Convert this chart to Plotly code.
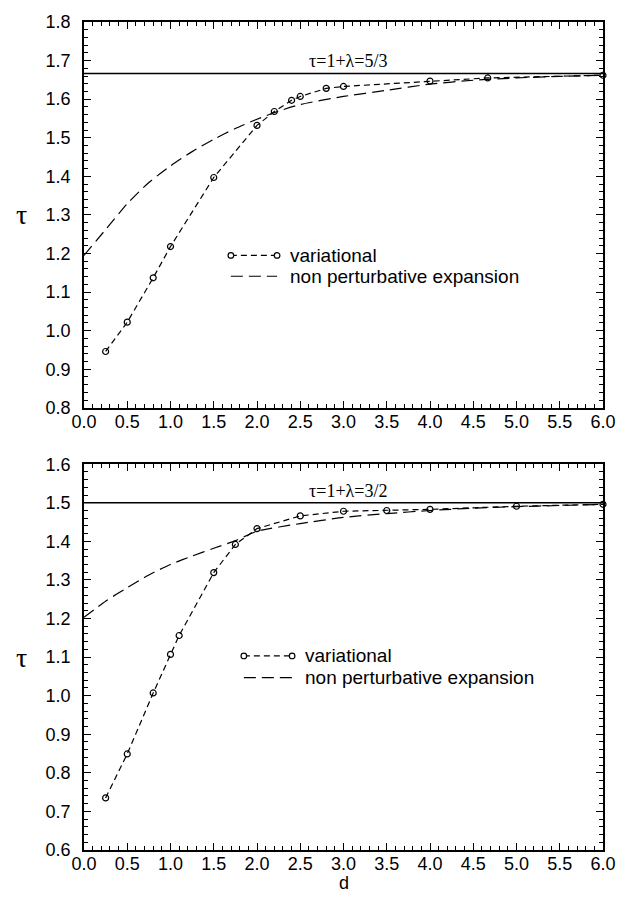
import plotly.graph_objects as go

# ---- data -------------------------------------------------------------
# upper panel: lambda = 2/3, asymptote tau = 5/3
d_var_a = [0.25, 0.5, 0.8, 1.0, 1.5, 2.0, 2.2, 2.4, 2.5, 2.8, 3.0, 4.0, 4.667, 6.0]
tau_var_a = [0.946, 1.022, 1.137, 1.218, 1.397, 1.532, 1.568, 1.597, 1.607, 1.628,
             1.633, 1.647, 1.655, 1.662]
d_np_a = [0.0, 0.25, 0.5, 0.75, 1.0, 1.25, 1.5, 1.75, 2.0, 2.25, 2.5, 3.0, 3.5,
          4.0, 4.5, 5.0, 5.5, 6.0]
tau_np_a = [1.195, 1.262, 1.329, 1.384, 1.427, 1.464, 1.496, 1.524, 1.548, 1.569,
            1.586, 1.607, 1.623, 1.639, 1.649, 1.655, 1.659, 1.662]
tau_limit_a = 5 / 3
label_a = "τ=1+λ=5/3"

# lower panel: lambda = 1/2, asymptote tau = 3/2
d_var_b = [0.25, 0.5, 0.8, 1.0, 1.1, 1.5, 1.75, 2.0, 2.5, 3.0, 3.5, 4.0, 5.0, 6.0]
tau_var_b = [0.735, 0.849, 1.007, 1.107, 1.156, 1.319, 1.392, 1.433, 1.466, 1.478,
             1.480, 1.483, 1.491, 1.496]
d_np_b = [0.0, 0.25, 0.5, 0.75, 1.0, 1.25, 1.5, 1.75, 2.0, 2.5, 3.0, 3.5, 4.0,
          4.5, 5.0, 5.5, 6.0]
tau_np_b = [1.203, 1.245, 1.280, 1.313, 1.340, 1.362, 1.382, 1.402, 1.426, 1.446,
            1.462, 1.472, 1.480, 1.486, 1.490, 1.493, 1.496]
tau_limit_b = 3 / 2
label_b = "τ=1+λ=3/2"

x_ticks = [0.0, 0.5, 1.0, 1.5, 2.0, 2.5, 3.0, 3.5, 4.0, 4.5, 5.0, 5.5, 6.0]
y_ticks_a = [0.8, 0.9, 1.0, 1.1, 1.2, 1.3, 1.4, 1.5, 1.6, 1.7, 1.8]
y_ticks_b = [0.6, 0.7, 0.8, 0.9, 1.0, 1.1, 1.2, 1.3, 1.4, 1.5, 1.6]
legend_names = ["variational", "non perturbative expansion"]
x_title = "d"
y_title = "τ"

# ---- styling ----------------------------------------------------------
SANS = "Liberation Sans, Arial, sans-serif"
SERIF = "Liberation Serif, Times New Roman, serif"
INK = "#000000"
VAR_DASH = "6px,4px"
NP_DASH = "12px,6px"
LW = 1.2

fig = go.Figure()


def add_panel(xa, ya, d_var, t_var, d_np, t_np, limit):
    fig.add_trace(go.Scatter(
        x=[x_ticks[0], x_ticks[-1]], y=[limit, limit], mode="lines",
        line=dict(color=INK, width=1.4), xaxis=xa, yaxis=ya,
        showlegend=False, hoverinfo="skip"))
    fig.add_trace(go.Scatter(
        x=d_np, y=t_np, mode="lines", name=legend_names[1],
        line=dict(color=INK, width=LW, dash=NP_DASH, shape="spline", smoothing=0.6),
        xaxis=xa, yaxis=ya, showlegend=False))
    fig.add_trace(go.Scatter(
        x=d_var, y=t_var, mode="lines+markers", name=legend_names[0],
        line=dict(color=INK, width=LW, dash=VAR_DASH),
        marker=dict(symbol="circle-open", size=6, color=INK, line=dict(width=1.2)),
        xaxis=xa, yaxis=ya, showlegend=False, cliponaxis=False))


add_panel("x", "y", d_var_a, tau_var_a, d_np_a, tau_np_a, tau_limit_a)
add_panel("x2", "y2", d_var_b, tau_var_b, d_np_b, tau_np_b, tau_limit_b)

common_axis = dict(
    showline=True, linecolor=INK, linewidth=1.5, mirror="allticks",
    ticks="inside", ticklen=7, tickwidth=1.2, tickcolor=INK,
    showgrid=False, zeroline=False,
    tickfont=dict(family=SANS, size=18, color=INK),
)

xaxis_common = dict(common_axis, range=[0, 6], tickvals=x_ticks, tickformat=".1f",
                    minor=dict(ticks="inside", ticklen=4, dtick=0.1, tickcolor=INK,
                               tickwidth=1, showgrid=False),
                    ticklabelstandoff=-3)

y_minor = dict(ticks="inside", ticklen=4, dtick=0.02, tickcolor=INK,
               tickwidth=1, showgrid=False)

fig.update_layout(
    width=631, height=901,
    margin=dict(l=84, r=28, t=13, b=51),
    paper_bgcolor="white", plot_bgcolor="white",
    showlegend=False,
    xaxis=dict(xaxis_common, anchor="y"),
    yaxis=dict(common_axis, domain=[0.53405, 1.0], range=[0.8, 1.8],
               tickvals=y_ticks_a, tickformat=".1f", anchor="x",
               minor=y_minor, ticklabelstandoff=8),
    xaxis2=dict(xaxis_common, anchor="y2"),
    yaxis2=dict(common_axis, domain=[0.0, 0.46595], range=[0.6, 1.6],
                tickvals=y_ticks_b, tickformat=".1f", anchor="x2",
                minor=y_minor, ticklabelstandoff=8),
)

annotations = []
shapes = []

# asymptote labels
for xa, ya, lim, txt in [("x", "y", tau_limit_a, label_a), ("x2", "y2", tau_limit_b, label_b)]:
    annotations.append(dict(x=3.05, y=lim, xref=xa, yref=ya, text=txt, showarrow=False,
                            xanchor="center", yanchor="bottom", yshift=0,
                            font=dict(family=SERIF, size=18, color=INK)))

# axis titles
for xa, ya in [("x", "y"), ("x2", "y2")]:
    annotations.append(dict(x=-0.1195, y=0.5, xref=f"{xa} domain", yref=f"{ya} domain",
                            text=y_title, showarrow=False, xanchor="center",
                            yanchor="middle",
                            font=dict(family=SERIF, size=28, color=INK)))
annotations.append(dict(x=0.5, y=-0.085, xref="x2 domain", yref="y2 domain",
                        text=x_title, showarrow=False, xanchor="center",
                        yanchor="middle", font=dict(family=SANS, size=18, color=INK)))


# in-panel legends: key lines drawn in axis-domain units
def add_legend(xa, ya, kx0, kx1, tx, row1, row2):
    xr, yr = f"{xa} domain", f"{ya} domain"
    shapes.append(dict(type="line", xref=xr, yref=yr, x0=kx0, x1=kx1, y0=row1, y1=row1,
                       line=dict(color=INK, width=LW, dash=VAR_DASH)))
    for kx in (kx0, kx1):
        shapes.append(dict(type="circle", xref=xr, yref=yr, xsizemode="pixel",
                           ysizemode="pixel", xanchor=kx, yanchor=row1,
                           x0=-2.8, x1=2.8, y0=-2.8, y1=2.8,
                           fillcolor="white", line=dict(color=INK, width=1.2)))
    shapes.append(dict(type="line", xref=xr, yref=yr, x0=kx0, x1=kx1, y0=row2, y1=row2,
                       line=dict(color=INK, width=LW, dash=NP_DASH)))
    for name, row in zip(legend_names, (row1, row2)):
        annotations.append(dict(x=tx, y=row, xref=xr, yref=yr, text=name,
                                showarrow=False, xanchor="left", yanchor="middle",
                                font=dict(family=SANS, size=19, color=INK)))


add_legend("x", "y", 0.283, 0.372, 0.393, 0.395, 0.341)
add_legend("x2", "y2", 0.308, 0.401, 0.422, 0.503, 0.4466)

fig.update_layout(annotations=annotations, shapes=shapes)

fig.write_html("out.html")
